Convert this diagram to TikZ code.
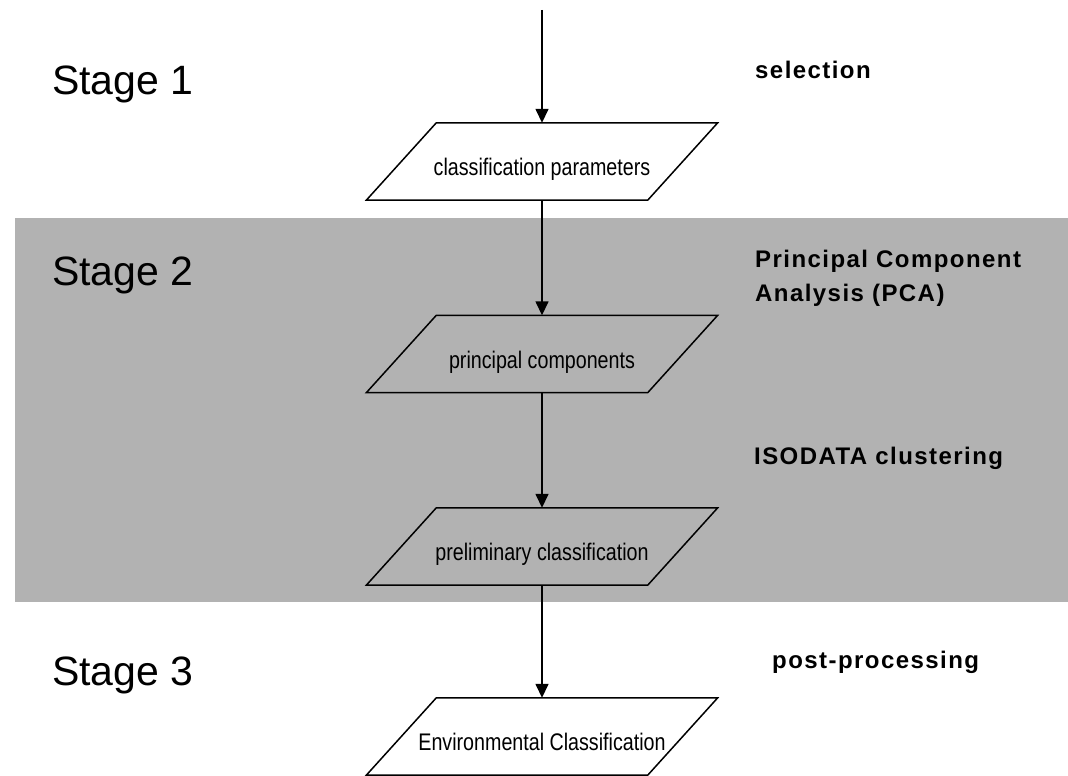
\documentclass[tikz,border=0pt]{standalone}
\usepackage{fontspec}
\setmainfont{Liberation Sans}
\newfontfamily\narrowfont[FakeStretch=0.82]{Liberation Sans}
\newfontfamily\labelfont[LetterSpace=6]{Liberation Sans}
\usetikzlibrary{arrows.meta}
\definecolor{band}{RGB}{178,178,178}
\begin{document}
\begin{tikzpicture}[x=1pt,y=-1pt,
  para/.style={rectangle, minimum width=351pt, minimum height=77pt, inner sep=0pt,
    text height=33pt, text depth=5pt,
    font=\narrowfont\fontsize{24}{28}\selectfont},
  paraline/.style={draw=black, line width=1.5pt, line join=miter},
  flow/.style={line width=1.5pt, -{Triangle[length=14pt,width=13pt]}},
  stagelbl/.style={anchor=base west, inner sep=0pt, font=\fontsize{41}{48}\selectfont},
  steplbl/.style={anchor=base west, inner sep=0pt, align=left,
    font=\labelfont\bfseries\fontsize{24}{34}\selectfont}]
\useasboundingbox (0,0) rectangle (1068,776);
\fill[white] (0,0) rectangle (1068,776);
\fill[band] (15,218) rectangle (1068,602);

\coordinate (start) at (542,10);
\node[para] (p1) at (542,161.5) {classification parameters};
\node[para] (p2) at (542,354) {principal components};
\node[para] (p3) at (542,546.5) {preliminary classification};
\node[para] (p4) at (542,736.5) {Environmental Classification};
\foreach \n in {p1,p2,p3,p4}
  \draw[paraline] (\n.south west) -- ([xshift=-70pt]\n.south east)
    -- (\n.north east) -- ([xshift=70pt]\n.north west) -- cycle;

\draw[flow] (start) -- (p1.north);
\draw[flow] (p1.south) -- (p2.north);
\draw[flow] (p2.south) -- (p3.north);
\draw[flow] (p3.south) -- (p4.north);

\node[stagelbl] (s1) at (52,94) {Stage 1};
\node[stagelbl] (s2) at (52,285) {Stage 2};
\node[stagelbl] (s3) at (52,685) {Stage 3};

\node[steplbl] (l1) at (755,78) {selection};
\node[steplbl] (l2) at (755,301) {Principal Component\\Analysis (PCA)};
\node[steplbl] (l3) at (754,464) {ISODATA clustering};
\node[steplbl] (l4) at (772,668) {post-processing};
\end{tikzpicture}
\end{document}
